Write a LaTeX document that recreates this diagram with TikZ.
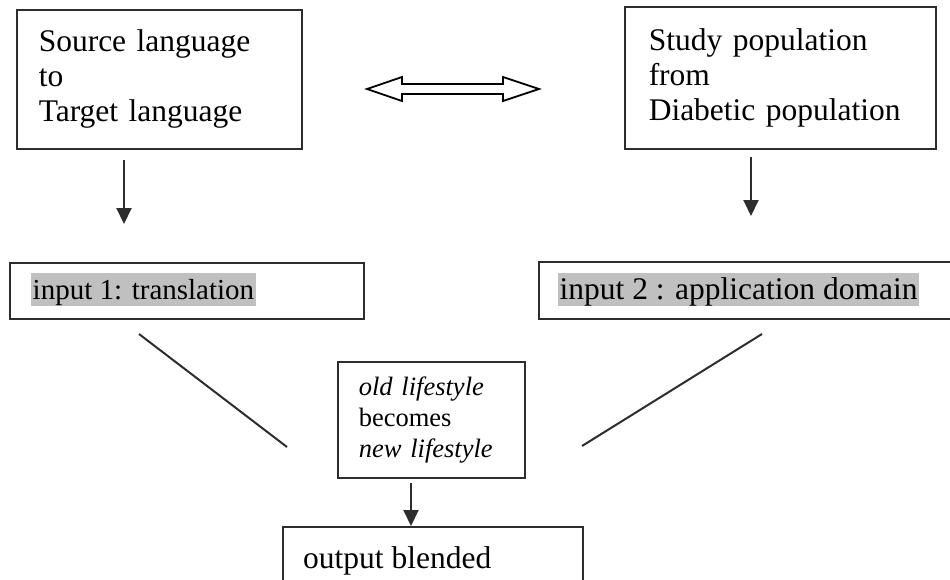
\documentclass[tikz,border=0pt]{standalone}
\usepackage{fontspec}
\setmainfont{Liberation Serif}
\usetikzlibrary{arrows.meta}

\definecolor{hlgray}{RGB}{192,192,192}
\definecolor{inkgray}{RGB}{45,45,45}

\tikzset{
  box/.style={draw=inkgray, line width=1.5pt, inner sep=0pt, anchor=north west},
  bigtext/.style={font=\fontsize{31.5}{35}\selectfont, align=left},
  midtext/.style={font=\fontsize{26.5}{31}\selectfont, align=left},
  hl/.style={fill=hlgray, inner xsep=1.5pt, inner ysep=0pt,
             text height=26.5pt, text depth=6.5pt},
  downarrow/.style={draw=inkgray, line width=2pt,
                    -{Triangle[width=15pt,length=16pt]}},
  link/.style={draw=inkgray, line width=2pt},
  hollow/.style={draw=black, line width=1.8pt, fill=white, line join=miter}
}

\begin{document}
\begin{tikzpicture}[x=1pt,y=-1pt]
  \useasboundingbox (0,0) rectangle (950,579);
  \clip (0,0) rectangle (950,579);

  % top boxes
  \node[box, minimum width=285, minimum height=139, inner xsep=22pt,
        text width=241pt, bigtext] (src) at (16,9)
        {Source language\\to\\Target language};
  \node[box, minimum width=311, minimum height=142, inner xsep=24pt,
        text width=263pt, bigtext] (pop) at (624,6)
        {Study population\\from\\Diabetic population};

  % hollow double-headed arrow between the top boxes
  \coordinate (dl) at (367,89);
  \coordinate (dr) at (539,89);
  \draw[hollow] (dl) -- (402,77) -- (402,84) -- (503,84) -- (503,77)
        -- (dr) -- (503,101) -- (503,94) -- (402,94) -- (402,101) -- cycle;

  % input boxes
  \node[box, minimum width=354, minimum height=56] (in1) at (9,262) {};
  \node[hl, anchor=west, font=\fontsize{29}{33}\selectfont] (in1t)
        at (31,289.5) {input 1: translation};
  \node[box, minimum width=430, minimum height=57] (in2) at (538,261) {};
  \node[hl, anchor=west, font=\fontsize{31.5}{35}\selectfont] (in2t)
        at (558,289.5) {input 2 : application domain};

  % arrows from the top boxes to the inputs
  \coordinate (a1s) at (124,160);
  \coordinate (a1e) at (124,224);
  \draw[downarrow] (a1s) -- (a1e);
  \coordinate (a2s) at (751,157);
  \coordinate (a2e) at (751,216);
  \draw[downarrow] (a2s) -- (a2e);

  % blend box
  \node[box, minimum width=187, minimum height=116, inner xsep=21pt,
        text width=145pt, midtext] (blend) at (337,361)
        {\textit{old lifestyle}\\becomes\\\textit{new lifestyle}};

  % lines from the inputs towards the blend
  \coordinate (l1s) at (139,334);
  \coordinate (l1e) at (287,447);
  \draw[link] (l1s) -- (l1e);
  \coordinate (l2s) at (762,334);
  \coordinate (l2e) at (582,446);
  \draw[link] (l2s) -- (l2e);

  % output box
  \node[box, minimum width=300, minimum height=80] (out) at (282,526) {};
  \node[anchor=base west, inner sep=0pt, bigtext] (outt) at (303,568)
        {output blended};

  % arrow from the blend to the output
  \coordinate (a3s) at (411,483);
  \draw[downarrow] (a3s) -- (out.north -| a3s);
\end{tikzpicture}
\end{document}
